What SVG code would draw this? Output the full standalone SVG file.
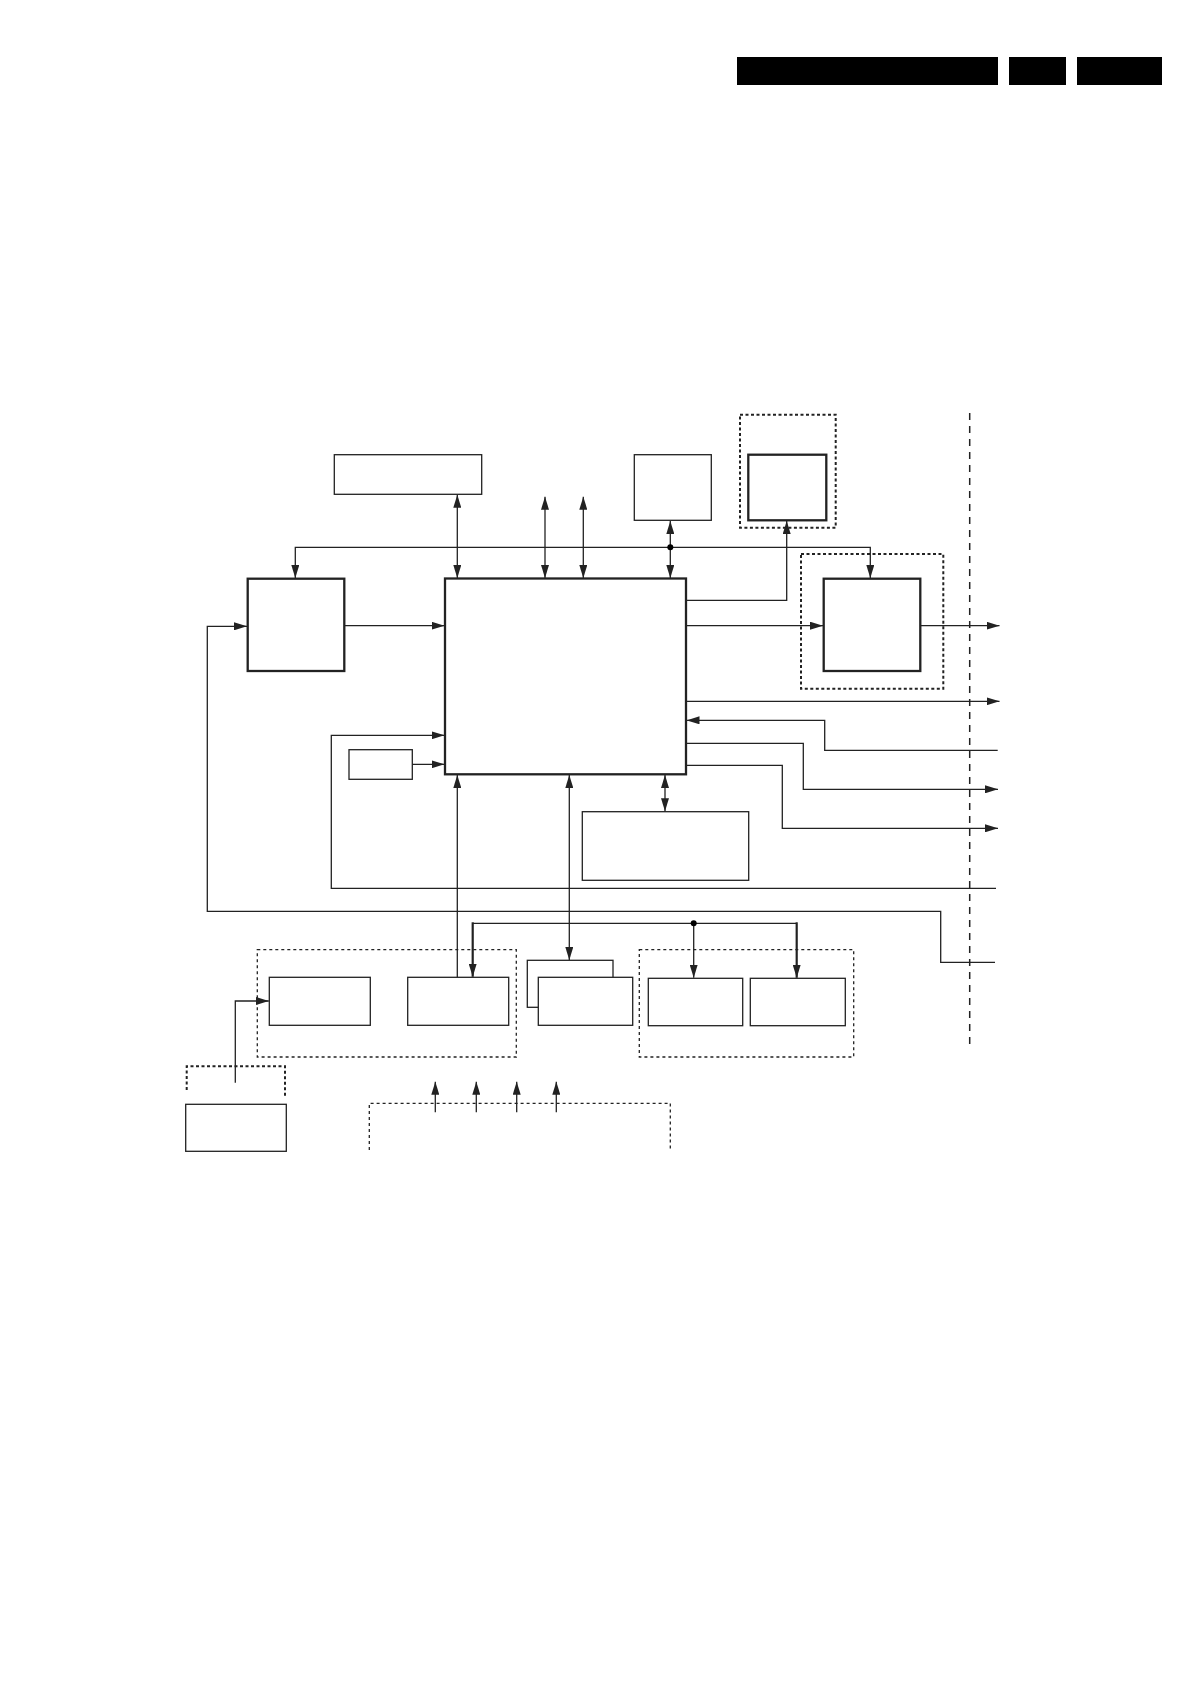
<svg xmlns="http://www.w3.org/2000/svg" width="1190" height="1684" viewBox="0 0 1190 1684">
<style>
.thin{fill:#fff;stroke:#222;stroke-width:1.3}
.thick{fill:#fff;stroke:#222;stroke-width:2.3}
.dot{fill:none;stroke:#222;stroke-width:1.3;stroke-dasharray:3 3}
.dotb{fill:none;stroke:#222;stroke-width:2;stroke-dasharray:3 2.5}
.ln{fill:none;stroke:#222;stroke-width:1.3}
.lnb{fill:none;stroke:#222;stroke-width:2.2}
.hdr{fill:#000}
</style>
<defs>
<marker id="ah" viewBox="0 0 13 8" refX="13" refY="4" markerWidth="13" markerHeight="8" markerUnits="userSpaceOnUse" orient="auto-start-reverse">
<path d="M0,0 L13,4 L0,8 z" fill="#222"/>
</marker>
</defs>
<g id="header">
<rect class="hdr" x="737" y="57" width="261" height="28"/>
<rect class="hdr" x="1009" y="57" width="57" height="28"/>
<rect class="hdr" x="1077" y="57" width="85" height="28"/>
</g>
<g id="groups">
<rect id="grp-topright" class="dotb" x="740" y="414.7" width="95.7" height="113"/>
<rect id="grp-right" class="dotb" x="801" y="554" width="142.3" height="134.7"/>
<rect id="grp-bottomA" class="dot" x="257.3" y="949.7" width="259" height="107.3"/>
<rect id="grp-bottomB" class="dot" x="639.3" y="949.7" width="214.4" height="107.3"/>
<path id="grp-bl" class="dotb" d="M186.7,1090 V1066.3 H285 V1097"/>
<path id="grp-bottom" class="dot" d="M369.3,1150 V1103.3 H670.3 V1150"/>
<line id="boundary" x1="969.7" y1="413" x2="969.7" y2="1049" stroke="#222" stroke-width="1.5" stroke-dasharray="7 6"/>
</g>
<g id="node-top"><rect class="thin" x="334.3" y="454.7" width="147.4" height="39.6"/></g>
<g id="node-topbox"><rect class="thin" x="634.3" y="454.7" width="77" height="65.6"/></g>
<g id="node-topright"><rect class="thick" x="748.3" y="454.7" width="78" height="65.6"/></g>
<g id="node-left"><rect class="thick" x="247.7" y="578.7" width="96.6" height="92.3"/></g>
<g id="node-main"><rect class="thick" x="445" y="578.5" width="241" height="195.8"/></g>
<g id="node-right"><rect class="thick" x="823.7" y="578.7" width="96.6" height="92.3"/></g>
<g id="node-small"><rect class="thin" x="349" y="749.7" width="63.3" height="29.6"/></g>
<g id="node-lower"><rect class="thin" x="582.3" y="811.7" width="166.4" height="68.6"/></g>
<g id="node-A1"><rect class="thin" x="269.3" y="977.3" width="101" height="48"/></g>
<g id="node-A2"><rect class="thin" x="407.7" y="977.3" width="101" height="48"/></g>
<g id="node-stack"><rect class="thin" x="527.3" y="960.3" width="85.7" height="47"/><rect class="thin" x="538.3" y="977.3" width="94.4" height="48"/></g>
<g id="node-B1"><rect class="thin" x="648.3" y="978.3" width="94.4" height="47.4"/></g>
<g id="node-B2"><rect class="thin" x="750.3" y="978.3" width="95" height="47.4"/></g>
<g id="node-bl"><rect class="thin" x="185.7" y="1104.3" width="100.6" height="47"/></g>
<g id="connectors">
<line class="ln" x1="457.3" y1="494.8" x2="457.3" y2="578" marker-start="url(#ah)" marker-end="url(#ah)"/>
<line class="ln" x1="545" y1="496.7" x2="545" y2="578" marker-start="url(#ah)" marker-end="url(#ah)"/>
<line class="ln" x1="583.3" y1="496.7" x2="583.3" y2="578" marker-start="url(#ah)" marker-end="url(#ah)"/>
<line class="ln" x1="670.3" y1="521" x2="670.3" y2="578" marker-start="url(#ah)" marker-end="url(#ah)"/>
<path class="ln" d="M295.3,578 V547.3 H870.3 V578" marker-start="url(#ah)" marker-end="url(#ah)"/>
<circle cx="670.3" cy="547.3" r="3" fill="#000"/>
<path class="ln" d="M686,600.3 H786.7 V521" marker-end="url(#ah)"/>
<line class="ln" x1="686" y1="625.7" x2="823" y2="625.7" marker-end="url(#ah)"/>
<line class="ln" x1="920.3" y1="625.7" x2="999.5" y2="625.7" marker-end="url(#ah)"/>
<line class="ln" x1="344.3" y1="625.7" x2="444.5" y2="625.7" marker-end="url(#ah)"/>
<path class="ln" d="M995,962.3 H940.7 V911.3 H207.3 V626.3 H247" marker-end="url(#ah)"/>
<path class="ln" d="M996,888.3 H331.3 V735.3 H444.5" marker-end="url(#ah)"/>
<line class="ln" x1="412.3" y1="764.3" x2="444.5" y2="764.3" marker-end="url(#ah)"/>
<line class="ln" x1="686" y1="701.3" x2="999.5" y2="701.3" marker-end="url(#ah)"/>
<path class="ln" d="M997.7,750.3 H824.7 V720.3 H686.5" marker-end="url(#ah)"/>
<path class="ln" d="M686,743.3 H803.3 V789.3 H998" marker-end="url(#ah)"/>
<path class="ln" d="M686,765.3 H782.3 V828.3 H998" marker-end="url(#ah)"/>
<line class="ln" x1="457.3" y1="977.3" x2="457.3" y2="775" marker-end="url(#ah)"/>
<line class="ln" x1="569.3" y1="775" x2="569.3" y2="960" marker-start="url(#ah)" marker-end="url(#ah)"/>
<line class="ln" x1="665" y1="775" x2="665" y2="811.2" marker-start="url(#ah)" marker-end="url(#ah)"/>
<line class="ln" x1="472.7" y1="923.3" x2="796.7" y2="923.3"/>
<line class="lnb" x1="472.7" y1="922.3" x2="472.7" y2="976.8" marker-end="url(#ah)"/>
<line class="lnb" x1="796.7" y1="922.3" x2="796.7" y2="977.8" marker-end="url(#ah)"/>
<line class="ln" x1="693.7" y1="923.3" x2="693.7" y2="977.8" marker-end="url(#ah)"/>
<circle cx="693.7" cy="923.3" r="3" fill="#000"/>
<path class="ln" d="M235.3,1082.7 V1001 H268.8" marker-end="url(#ah)"/>
<line class="ln" x1="435.3" y1="1112.3" x2="435.3" y2="1081.7" marker-end="url(#ah)"/>
<line class="ln" x1="476.3" y1="1112.3" x2="476.3" y2="1081.7" marker-end="url(#ah)"/>
<line class="ln" x1="516.7" y1="1112.3" x2="516.7" y2="1081.7" marker-end="url(#ah)"/>
<line class="ln" x1="556.3" y1="1112.3" x2="556.3" y2="1081.7" marker-end="url(#ah)"/>
</g>
</svg>
